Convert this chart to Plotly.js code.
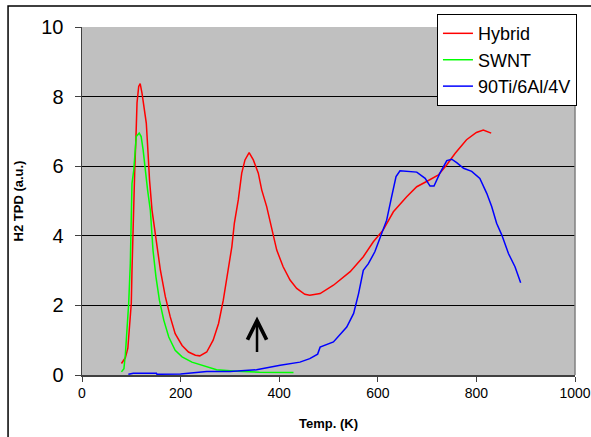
<!DOCTYPE html>
<html>
<head>
<meta charset="utf-8">
<script src="https://cdn.plot.ly/plotly-3.0.1.min.js"></script>
<style>html,body{margin:0;padding:0;background:#fff;}#chart{width:591px;height:437px;}</style>
</head>
<body>
<div id="chart"></div>
<script>
// Hybrid (red)
const hybridT = [80,88,93,97,100,101.4,103.5,107,109.5,111.6,115,118,121.7,125,130.4,134,137,142,150,159,169,179,189,203,216,230,239,253,266,277,286.6,295,304,309,317,324,330.6,339,347.5,357.6,364.5,374.6,384.8,395,408,422,435.5,452,462,483,510,544,570.6,591,611,631.6,658.6,679,699,723,740,757,780,800,814,821,830];
const hybridV = [0.33,0.50,0.77,1.38,2.06,3.0,4.45,5.9,6.85,7.82,8.29,8.37,8.1,7.71,7.24,6.37,5.6,4.74,3.97,3.01,2.25,1.67,1.19,0.85,0.66,0.57,0.55,0.66,1.0,1.48,2.15,2.92,3.69,4.36,5.03,5.8,6.18,6.39,6.18,5.8,5.32,4.84,4.17,3.59,3.11,2.73,2.49,2.32,2.29,2.34,2.58,2.97,3.4,3.83,4.17,4.69,5.12,5.41,5.56,5.75,6.04,6.37,6.76,6.97,7.04,7.0,6.95];
// SWNT (green)
const swntT = [80,85,88,91,94.7,98,100,101.4,105,107,110,116,120,124,128,133,138.6,144,150,157,166,176,189,203,223,243,273,314,360,429];
const swntV = [0.09,0.18,0.6,1.29,2.06,3.2,4.45,5.5,5.89,6.37,6.85,6.95,6.85,6.47,5.89,5.32,4.74,3.59,2.82,2.15,1.57,1.09,0.71,0.52,0.37,0.28,0.15,0.11,0.08,0.07];
// 90Ti/6Al/4V (blue)
const tiT = [94,104,151,152,200,253,300,354,402,442,462,469,478,483,510,537,551,561,570.6,580.9,594,608,618,628,637,645,679,696,706,714,726,740,750,760,774,790.5,807,821,831,841,851.6,865,878.3,889.8];
const tiV = [0.02,0.05,0.05,0.02,0.03,0.1,0.1,0.15,0.28,0.37,0.47,0.52,0.6,0.8,0.95,1.38,1.77,2.34,3.01,3.2,3.54,4.07,4.45,5.12,5.7,5.87,5.83,5.65,5.43,5.43,5.8,6.16,6.2,6.1,5.94,5.85,5.65,5.22,4.84,4.36,4.02,3.49,3.11,2.65];

const seriesNames = ['Hybrid','SWNT','90Ti/6Al/4V'];
const xTicks = [0,200,400,600,800,1000];
const yTicks = [0,2,4,6,8,10];
const yGrid = [2,4,6,8];
const arrowT = 355, arrowFrom = 0.62, arrowTo = 1.68;

const F = 'Arial, "Liberation Sans", sans-serif';
const traces = [
  {x: hybridT, y: hybridV, name: seriesNames[0], mode: 'lines', line: {color: '#ff0000', width: 1.5}},
  {x: swntT, y: swntV, name: seriesNames[1], mode: 'lines', line: {color: '#00ff00', width: 1.5}},
  {x: tiT, y: tiV, name: seriesNames[2], mode: 'lines', line: {color: '#0000ff', width: 1.5}},
  {x: [0], y: [0], yaxis: 'y2', mode: 'lines', showlegend: false, hoverinfo: 'skip', line: {width: 0}, opacity: 0}
];
const layout = {
  width: 591, height: 437,
  margin: {l: 82, r: 16, t: 27, b: 62},
  paper_bgcolor: '#ffffff', plot_bgcolor: '#c0c0c0',
  font: {family: F, color: '#000'},
  showlegend: true,
  legend: {x: 0.72, y: 1.037, xanchor: 'left', yanchor: 'top', bgcolor: '#ffffff', bordercolor: '#000', borderwidth: 1,
           font: {family: F, size: 18, color: '#000'}, tracegroupgap: 0},
  xaxis: {range: [0, 1000], tickvals: xTicks, ticktext: xTicks.map(String), showgrid: false, zeroline: false,
          showline: true, linecolor: '#404040', linewidth: 1.5, ticks: 'outside', ticklen: 5, tickcolor: '#404040',
          tickfont: {family: F, size: 14, color: '#000'},
          title: {text: '<b>Temp. (K)</b>', font: {family: F, size: 13, color: '#000'}, standoff: 18}},
  yaxis: {range: [0, 10], tickvals: yTicks, ticktext: yTicks.map(String), showgrid: false, zeroline: false,
          showline: true, linecolor: '#404040', linewidth: 1.5, ticks: 'outside', ticklen: 6, tickcolor: '#404040',
          ticklabelstandoff: 7,
          tickfont: {family: F, size: 20, color: '#000'},
          title: {text: '<b>H2 TPD (a.u.)</b>', font: {family: F, size: 13, color: '#000'}, standoff: 14}},
  yaxis2: {range: [0, 10], overlaying: 'y', tickvals: yGrid, showticklabels: false, ticks: '', showgrid: true,
           gridcolor: '#000000', gridwidth: 1, zeroline: false, showline: false},
  shapes: [
    {type: 'line', xref: 'paper', yref: 'paper', x0: 1, x1: 1, y0: 0, y1: 1, line: {color: '#808080', width: 1.5}},
    {type: 'rect', xref: 'paper', yref: 'paper', x0: -0.150, x1: 1.1, y0: -0.3, y1: 1.0603, line: {color: '#000', width: 1.5}, layer: 'below'}
  ],
  annotations: [
    {x: arrowT, y: arrowTo, ax: arrowT, ay: arrowFrom, xref: 'x', yref: 'y', axref: 'x', ayref: 'y',
     text: '', showarrow: true, arrowhead: 5, arrowsize: 1.5, arrowwidth: 2.5, arrowcolor: '#000'}
  ]
};
Plotly.newPlot('chart', traces, layout, {displayModeBar: false, staticPlot: true});
</script>
</body>
</html>
